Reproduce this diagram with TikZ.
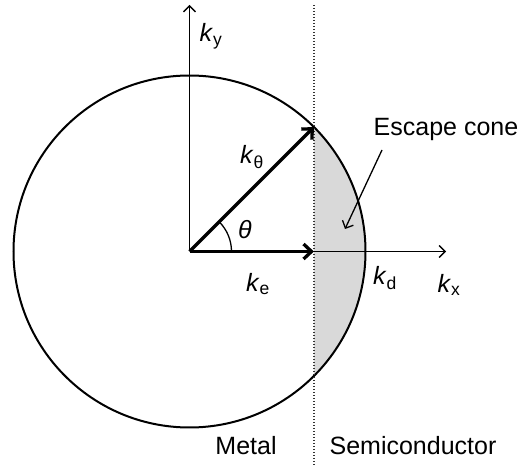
\documentclass[tikz,border=0pt]{standalone}
\usepackage{fontspec}
\setmainfont{Liberation Sans}
\usetikzlibrary{arrows.meta}
\tikzset{
  axis/.style={line width=1.3pt,-{Straight Barb[length=6pt,width=12pt,line width=1.3pt]}},
  vec/.style={line width=3.3pt,-{Straight Barb[length=8pt,width=15pt,line width=3.3pt]}},
  thinarrow/.style={line width=1.3pt,-{Straight Barb[length=6pt,width=12pt,line width=1.3pt]}},
  lbl/.style={inner sep=0pt}
}
\begin{document}
\begin{tikzpicture}[x=1pt,y=-1pt,font=\fontsize{25}{30}\selectfont]
\useasboundingbox (0,0) rectangle (523,465);
\coordinate (O) at (189.5,251.5);
\coordinate (T) at (313.95,127.05);
\coordinate (E) at (313.95,251.5);
\coordinate (Ytop) at (189.5,5);
\coordinate (Xend) at (446,251.5);
\coordinate (Dtop) at (313.95,5);
\coordinate (Dbot) at (313.95,465);
% shaded escape cone
\begin{scope}
  \clip (313.95,0) rectangle (523,465);
  \fill[black!15] (O) circle (176pt);
\end{scope}
% circle
\draw[line width=2pt] (O) circle (176pt);
% dotted interface
\draw[dash pattern=on 1.2pt off 1.8pt,line width=1.2pt,black!80] (Dtop) -- (Dbot);
% axes
\draw[axis] (O) -- (Ytop);
\draw[axis] (O) -- (Xend);
% angle arc
\draw[line width=1.3pt] ([xshift=42pt]O) arc[start angle=0,end angle=45,radius=42pt];
% vectors
\draw[vec] (O) -- (T);
\draw[vec] (O) -- (E);
% labels
\node[lbl] (ky) at (211,36) {\textit{k}\textsubscript{y}};
\node[lbl] (kt) at (252,157) {\textit{k}\textsubscript{θ}};
\node[lbl] (th) at (245,230) {\textit{θ}};
\node[lbl] (ke) at (258,284) {\textit{k}\textsubscript{e}};
\node[lbl] (kd) at (385,278) {\textit{k}\textsubscript{d}};
\node[lbl] (kx) at (449,285) {\textit{k}\textsubscript{x}};
\node[lbl] (esc) at (446,129) {Escape cone};
\node[lbl] (metal) at (246,446) {Metal};
\node[lbl] (semi) at (413,446) {Semiconductor};
\coordinate (escS) at (382,150);
\coordinate (escT) at (345,229);
\draw[thinarrow] (escS) -- (escT);
\end{tikzpicture}
\end{document}
